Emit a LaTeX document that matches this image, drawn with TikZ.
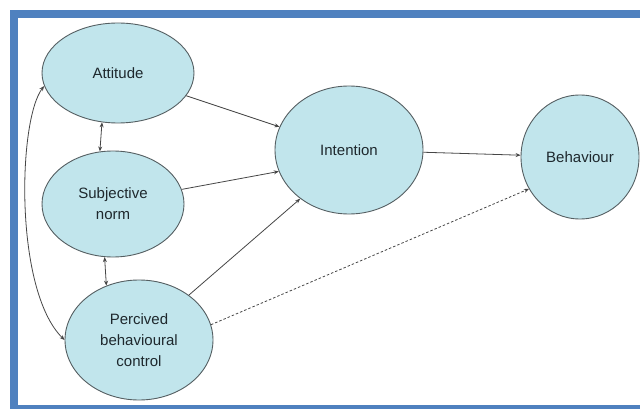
\documentclass[tikz,border=0pt]{standalone}
\usepackage{fontspec}
\setmainfont{Liberation Sans}
\usetikzlibrary{shapes.geometric,arrows.meta}
\definecolor{framebl}{RGB}{79,129,191}
\definecolor{ellfill}{RGB}{193,229,236}
\definecolor{elldraw}{RGB}{85,95,98}
\definecolor{linegray}{RGB}{70,70,70}
\definecolor{txt}{RGB}{30,40,45}
\tikzset{
  ell/.style={ellipse, draw=elldraw, line width=0.9pt, fill=ellfill, inner sep=0pt,
    text=txt, align=center, font=\fontsize{15}{21}\selectfont},
  conn/.style={draw=linegray, line width=0.8pt, -{Stealth[length=5pt,width=4pt]}},
  biconn/.style={draw=linegray, line width=0.8pt, {Stealth[length=5pt,width=4pt]}-{Stealth[length=5pt,width=4pt]}},
  dconn/.style={conn, dash pattern=on 2.5pt off 2pt}
}
\begin{document}
\begin{tikzpicture}[x=1pt,y=-1pt]
\useasboundingbox (0,0) rectangle (640,409);
\fill[white] (0,0) rectangle (640,409);
\begin{scope}
\clip (0,0) rectangle (640,409);
\draw[framebl, line width=8pt] (14,14) rectangle (660,409);
\end{scope}
\node[ell, minimum width=152pt, minimum height=100pt] (att) at (118,73) {Attitude};
\node[ell, minimum width=142pt, minimum height=106pt] (sn) at (113,204) {Subjective\\norm};
\node[ell, minimum width=148pt, minimum height=120pt] (pbc) at (139,340) {Percived\\behavioural\\control};
\node[ell, minimum width=148pt, minimum height=128pt] (int) at (349,150) {Intention};
\node[ell, minimum width=118pt, minimum height=124pt] (beh) at (580,157) {Behaviour};
\draw[conn] (att) -- (int);
\draw[conn] (sn.12) -- (int.197);
\draw[conn] (pbc.42) -- (int.225);
\draw[conn] (int) -- (beh);
\draw[dconn] (pbc.12) -- (beh.212);
\draw[biconn] (att.252) -- (sn.104);
\draw[biconn] (sn.261) -- (pbc.121);
\draw[biconn] (att.190) .. controls (18,120) and (14,290) .. (pbc.180);
\end{tikzpicture}
\end{document}
